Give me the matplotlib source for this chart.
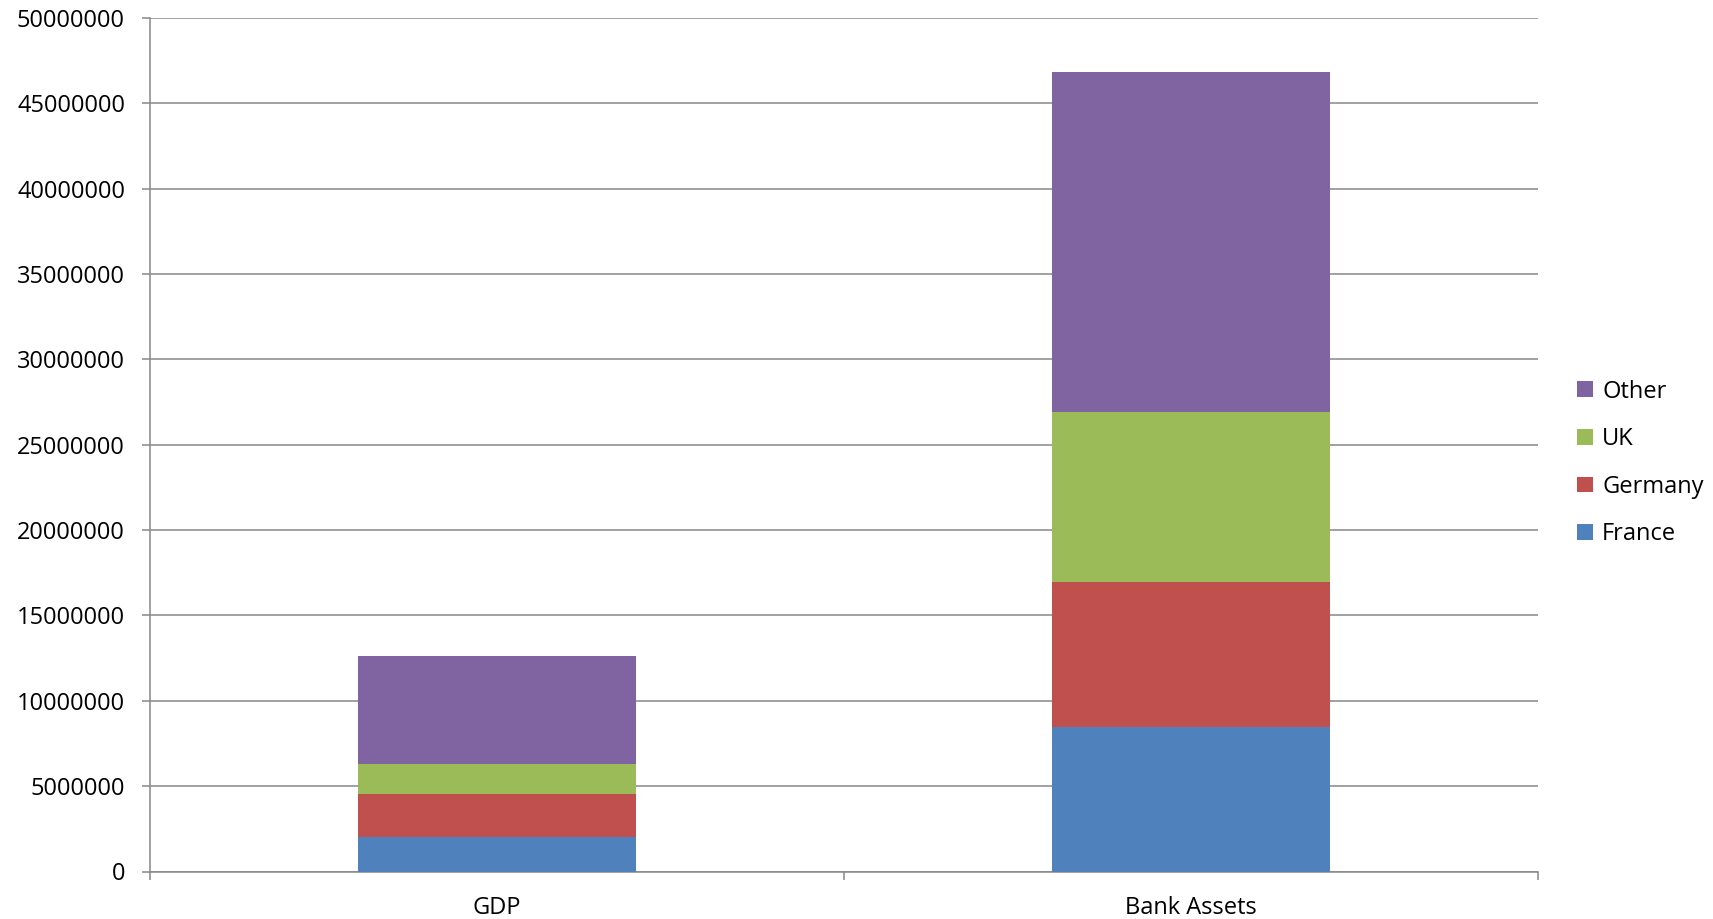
import numpy as np
import matplotlib.pyplot as plt
from matplotlib.patches import Patch

plt.rcParams['font.family'] = ['Open Sans', 'DejaVu Sans']

categories = ['GDP', 'Bank Assets']
series = ['France', 'Germany', 'UK', 'Other']
france = [2000000, 8450000]
germany = [2560000, 8510000]
uk = [1740000, 9940000]
other = [6320000, 19920000]
colors = ['#4F81BD', '#C0504D', '#9BBB59', '#8064A2']

grid_col = '#888888'

fig = plt.figure(figsize=(17.13, 9.19), dpi=100)
ax = fig.add_axes([150 / 1713, 47.5 / 919, 1388 / 1713, 853.5 / 919])

x = np.arange(len(categories))
bottom = np.zeros(len(categories))
for name, vals, c in zip(series, [france, germany, uk, other], colors):
    ax.bar(x, vals, 0.4, bottom=bottom, color=c, label=name, zorder=3)
    bottom += np.array(vals)

ax.set_xlim(-0.5, len(categories) - 0.5)
ax.set_ylim(0, 50000000)
ax.set_yticks(np.arange(0, 50000001, 5000000))
ax.set_yticklabels([str(v) for v in range(0, 50000001, 5000000)])
ax.yaxis.grid(True, color=grid_col, linewidth=1.1, zorder=0)

ax.set_xticks(x)
ax.set_xticklabels(categories)
ax.set_xticks(np.arange(-0.5, len(categories), 1.0), minor=True)
ax.tick_params(axis='x', which='major', length=0, pad=18, labelsize=17)
ax.tick_params(axis='x', which='minor', length=6, width=1.1, color=grid_col, direction='out')
ax.tick_params(axis='y', length=6, width=1.1, color=grid_col, pad=12, labelsize=17)

for s in ['top', 'right']:
    ax.spines[s].set_visible(False)
for s in ['left', 'bottom']:
    ax.spines[s].set_color(grid_col)
    ax.spines[s].set_linewidth(1.1)

handles = [Patch(facecolor=c) for c in colors][::-1]
fig.legend(handles, series[::-1], loc='center left',
           bbox_to_anchor=(1556 / 1713, 1 - 463 / 919), frameon=False,
           fontsize=17, handlelength=0.65, handleheight=0.65, handletextpad=0.4,
           labelspacing=1.0)

fig.savefig('out.png', dpi=100)
